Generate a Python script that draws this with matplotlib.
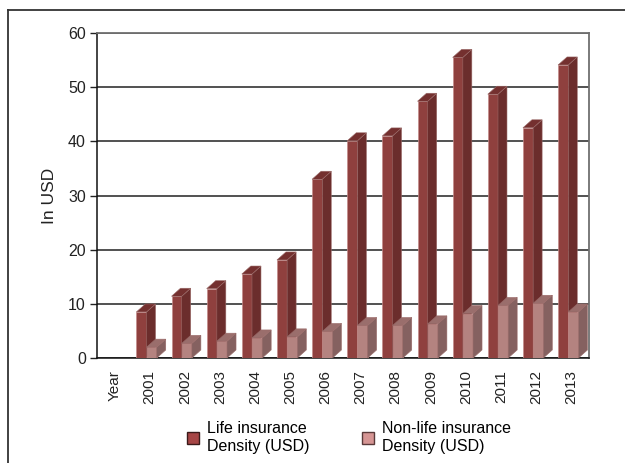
import matplotlib.pyplot as plt
from matplotlib.patches import Polygon
from matplotlib.lines import Line2D

plt.rcParams['font.family'] = ['Liberation Sans', 'DejaVu Sans']

# categories and values
years = ['Year', '2001', '2002', '2003', '2004', '2005', '2006', '2007',
         '2008', '2009', '2010', '2011', '2012', '2013']
life = [0, 8.5, 11.4, 12.8, 15.5, 18.1, 33.0, 40.1, 41.0, 47.4, 55.5, 48.7, 42.5, 54.1]
nonlife = [0, 2.0, 2.7, 3.1, 3.7, 3.9, 4.9, 6.0, 6.0, 6.3, 8.2, 9.7, 10.1, 8.5]
yticks = [0, 10, 20, 30, 40, 50, 60]

life_cols = ('#8F403E', '#6B2D2C', '#74302F')
non_cols = ('#B48380', '#856160', '#9A6E6C')

fig = plt.figure(figsize=(6.25, 4.63), dpi=100)
ax = fig.add_axes([0.1552, 0.2268, 0.7872, 0.7019])

width = 0.29
dx, dy = 0.256, 1.48


def bar3d(ax, x0, h, cols):
    # front face through the axes, side and top as polygons
    if h <= 0:
        return
    ax.bar(x0, h, width=width, align='edge', color=cols[0],
           edgecolor='#C48C8A', linewidth=0.5, zorder=3)
    x1 = x0 + width
    side = [(x1, 0), (x1 + dx, dy), (x1 + dx, h + dy), (x1, h)]
    top = [(x0, h), (x1, h), (x1 + dx, h + dy), (x0 + dx, h + dy)]
    ax.add_patch(Polygon(side, closed=True, facecolor=cols[1],
                         edgecolor='#9A6A68', linewidth=0.4, zorder=3))
    ax.add_patch(Polygon(top, closed=True, facecolor=cols[2],
                         edgecolor='#9A6A68', linewidth=0.4, zorder=3))


for i in range(len(years)):
    bar3d(ax, i - 0.38, life[i], life_cols)
for i in range(len(years)):
    bar3d(ax, i - 0.09, nonlife[i], non_cols)

ax.set_xlim(-0.5, len(years) - 0.5)
ax.set_ylim(0, 60)
ax.set_yticks(yticks)
ax.set_xticks(range(len(years)))
ax.set_xticklabels(years, rotation=90, fontsize=11, color='#222222')
ax.tick_params(axis='x', length=0, pad=9)
ax.tick_params(axis='y', length=5, width=1, labelsize=11.5, colors='#222222', pad=3)
ax.yaxis.grid(True, color='#222222', linewidth=1.1, zorder=0)
ax.set_axisbelow(True)

for s in ['top', 'right']:
    ax.spines[s].set_color('#707070')
    ax.spines[s].set_linewidth(1.3)
for s in ['left', 'bottom']:
    ax.spines[s].set_color('#111111')
    ax.spines[s].set_linewidth(1.1)

ax.set_ylabel('In USD', fontsize=12.5, color='#222222', labelpad=8)

handles = [plt.Rectangle((0, 0), 1, 1, facecolor='#A64545', edgecolor='#3A1A1A', linewidth=1),
           plt.Rectangle((0, 0), 1, 1, facecolor='#D69594', edgecolor='#5A3A3A', linewidth=1)]
fig.legend(handles, ['Life insurance\nDensity (USD)', 'Non-life insurance\nDensity (USD)'],
           loc='center', bbox_to_anchor=(0.559, 0.055), ncol=2, frameon=False,
           fontsize=11.5, handlelength=0.75, handleheight=0.85,
           handletextpad=0.5, columnspacing=3.3, labelspacing=0.15,
           borderpad=0.2)

# outer frame (top and left edge only)
fig.add_artist(Line2D([0.0128, 1.0], [0.978, 0.978], color='#333333', lw=1.3,
                      transform=fig.transFigure))
fig.add_artist(Line2D([0.0128, 0.0128], [0.0, 0.978], color='#333333', lw=1.3,
                      transform=fig.transFigure))

fig.savefig('out.png', dpi=100)
